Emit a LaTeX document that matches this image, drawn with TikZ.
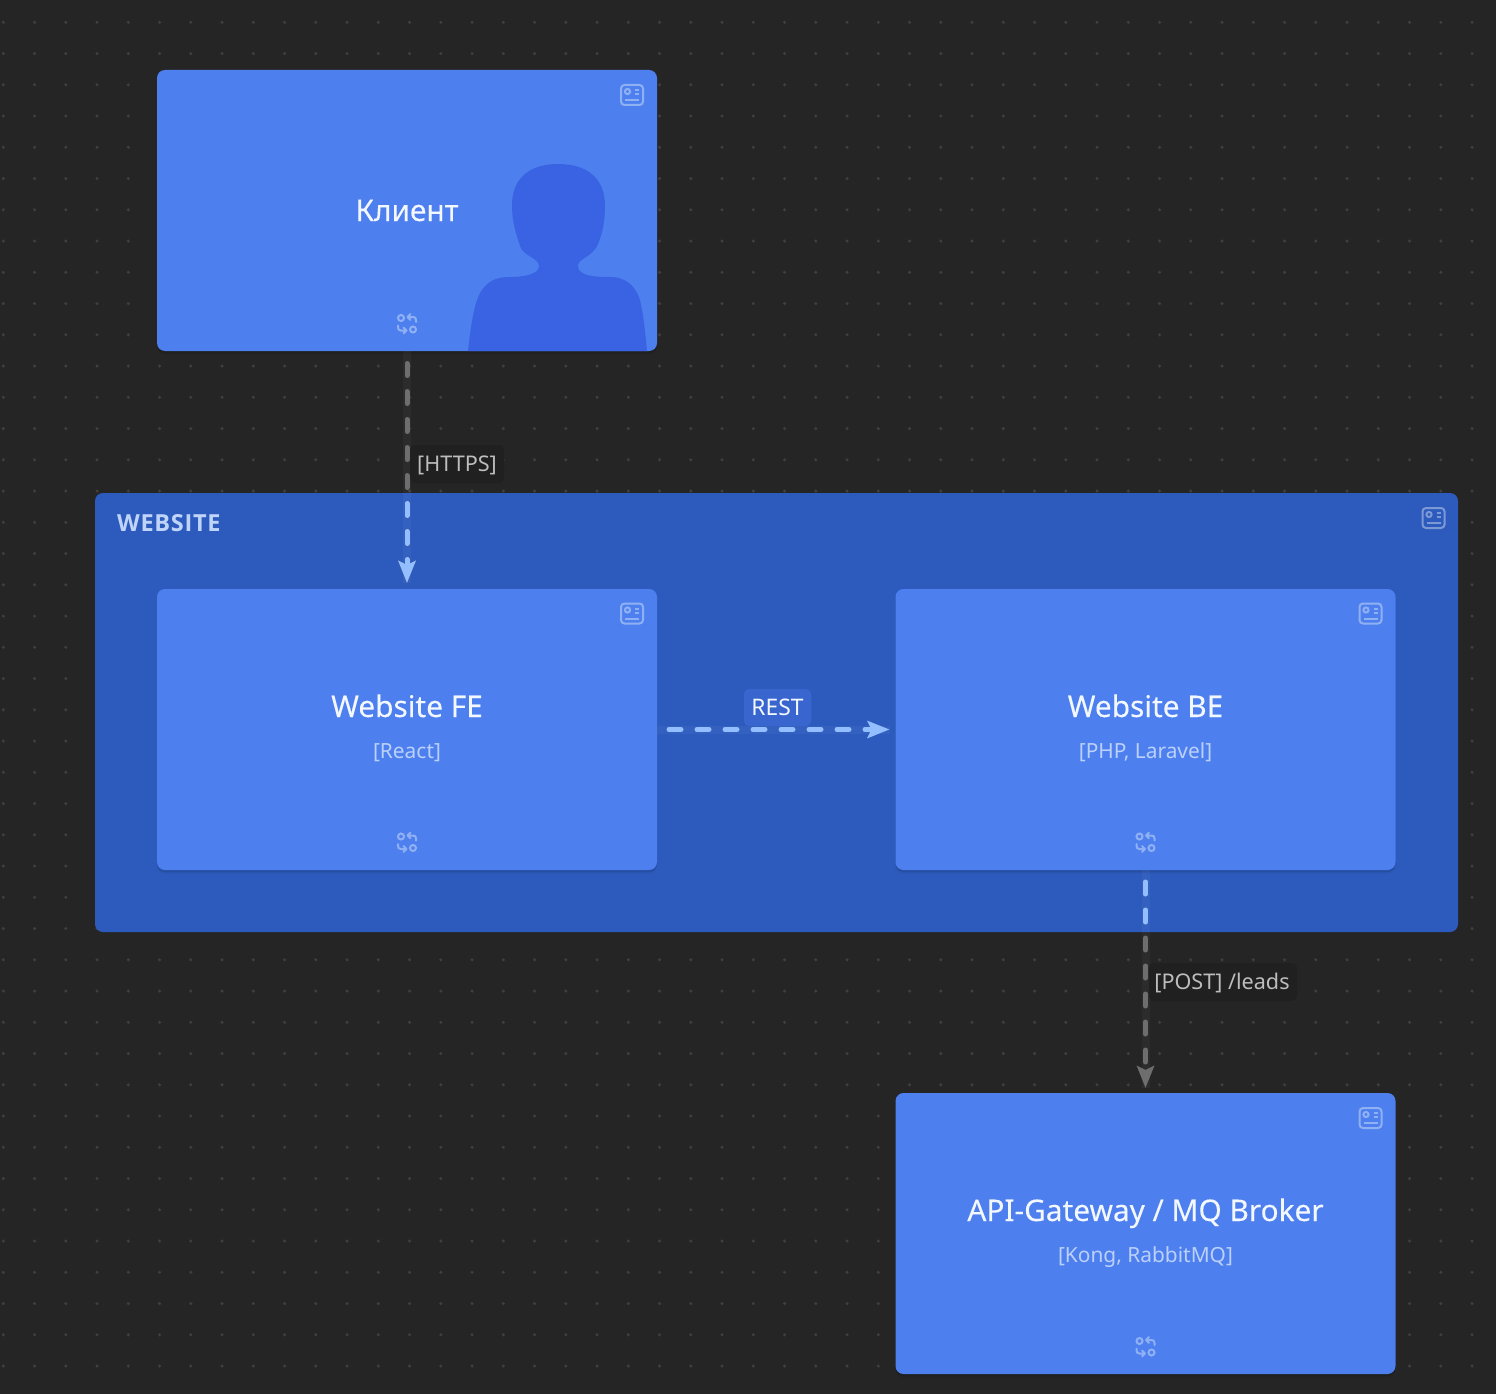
\documentclass[tikz,border=0pt]{standalone}
\usepackage{fontspec}
\setmainfont{Noto Sans}
\newfontfamily\titlefont[FakeBold=0.15]{Noto Sans}
\newfontfamily\contfont[LetterSpace=3,BoldFont={* Bold}]{Open Sans}
\usetikzlibrary{arrows.meta,shadows,calc}
\definecolor{canvas}{HTML}{252525}
\definecolor{griddot}{HTML}{3F3F3F}
\definecolor{boxblue}{HTML}{4D80EE}
\definecolor{contblue}{HTML}{2D5BBD}
\definecolor{personblue}{HTML}{3963E2}
\definecolor{edgegray}{HTML}{6E6E6E}
\definecolor{edgeblue}{HTML}{93BEFF}
\definecolor{titlecol}{HTML}{F3F7FF}
\definecolor{subcol}{HTML}{BBD0FA}
\definecolor{contcol}{HTML}{BFD4F8}
\definecolor{lblgray}{HTML}{202020}
\definecolor{lblblue}{HTML}{3866CE}
\definecolor{lbltext}{HTML}{BDBDBD}
\tikzset{
  x=1pt,y=-1pt,
  boxshape/.style={rectangle,rounded corners=8pt,inner sep=0pt,outer sep=0pt,fill=boxblue,
    minimum width=500pt,minimum height=281pt,
    general shadow={shadow yshift=-3.5pt,fill=black,opacity=.05},
    general shadow={shadow yshift=-2pt,fill=black,opacity=.09}},
  contshape/.style={rectangle,rounded corners=8pt,inner sep=0pt,outer sep=0pt,fill=contblue,
    minimum width=1363pt,minimum height=439pt},
  titletext/.style={text=titlecol,font=\titlefont\fontsize{29.8}{32}\selectfont,anchor=base,inner sep=0pt},
  subtext/.style={text=subcol,font=\fontsize{20.9}{25}\selectfont,anchor=base,inner sep=0pt},
  conttext/.style={text=contcol,font=\contfont\bfseries\fontsize{23.5}{26}\selectfont,anchor=base west,inner sep=0pt},
  edgelabel/.style={rectangle,rounded corners=5pt,inner sep=0pt,anchor=center},
  lbltxt/.style={font=\fontsize{21.6}{25}\selectfont,anchor=base,inner sep=0pt},
  band/.style={line width=8pt,white,opacity=.035},
  flow/.style={line width=5pt,line cap=round,dash pattern=on 12pt off 16pt,
    -{Stealth[length=22pt,width=17pt,inset=4pt]}},
  idcard/.pic={
    \draw[white,opacity=.38,line width=2pt,rounded corners=3.5pt] (-11,-10) rectangle (11,10);
    \draw[white,opacity=.38,line width=2pt] (-4.5,-3.5) circle (2.6);
    \draw[white,opacity=.38,line width=2pt] (3,-5) -- (7,-5) (3,-1) -- (7,-1) (-7,5) -- (7,5);
  },
  swapicon/.pic={
    \draw[white,opacity=.38,line width=2pt] (-6,-6) circle (3) (6,5.5) circle (3);
    \draw[white,opacity=.38,line width=2pt,line cap=round,line join=round]
      (9,-2) -- (9,-4) .. controls (9,-6) and (8,-7) .. (6,-7) -- (0.5,-7) (3.5,-10) -- (0.5,-7) -- (3.5,-4);
    \draw[white,opacity=.38,line width=2pt,line cap=round,line join=round]
      (-9,1.5) -- (-9,3.5) .. controls (-9,5.5) and (-8,6.5) .. (-6,6.5) -- (-0.5,6.5) (-3.5,3.5) -- (-0.5,6.5) -- (-3.5,9.5);
  },
}
\begin{document}
\begin{tikzpicture}
\useasboundingbox (0,0) rectangle (1496,1394);
\fill[canvas] (0,0) rectangle (1496,1394);
\fill[griddot] foreach \i in {0,...,47} { foreach \j in {0,...,44} { ({3.3+31.25*\i},{22.3+31.25*\j}) circle (1.7) } };

% container
\node[contshape] (website) at (776.5,712.5) {};
% boxes
\node[boxshape] (client) at (407,210.5) {};
\node[boxshape] (fe) at (407,729.5) {};
\node[boxshape] (be) at (1145.5,729.5) {};
\node[boxshape] (api) at (1145.5,1233.5) {};

% person silhouette
\fill[personblue] (468,351) .. controls (471,322) and (475,302) .. (480,293)
  .. controls (488,280) and (497,277) .. (510,277)
  .. controls (525,277) and (539,274) .. (539,266)
  .. controls (539,258) and (523,256) .. (520,246)
  .. controls (514,228) and (512,218) .. (512,205)
  .. controls (512,178) and (530,164) .. (558,164)
  .. controls (587,164) and (605,178) .. (605,206)
  .. controls (605,220) and (603,232) .. (598,244)
  .. controls (592,258) and (578,258) .. (578,266)
  .. controls (578,276) and (595,277) .. (610,277)
  .. controls (628,277) and (636,288) .. (640,300)
  .. controls (643,312) and (645,330) .. (647,351) -- cycle;

% icons
\pic at (632,95) {idcard};
\pic at (632,613.5) {idcard};
\pic at (1370.5,613.5) {idcard};
\pic at (1370.5,1118) {idcard};
\pic at (1433.5,518) {idcard};
\pic at (407,324) {swapicon};
\pic at (407,842.5) {swapicon};
\pic at (1145.5,842.5) {swapicon};
\pic at (1145.5,1347) {swapicon};

% texts
\node[titletext] (tclient) at (407,221) {Клиент};
\node[titletext] (tfe) at (407,717) {Website FE};
\node[subtext] (sfe) at (407,758) {[React]};
\node[titletext] (tbe) at (1145.5,717) {Website BE};
\node[subtext] (sbe) at (1145.5,758) {[PHP, Laravel]};
\node[titletext] (tapi) at (1145.5,1221) {API-Gateway / MQ Broker};
\node[subtext] (sapi) at (1145.5,1262) {[Kong, RabbitMQ]};
\node[conttext] (twebsite) at (117,531) {WEBSITE};

% connector bands
\draw[band,shorten >=6pt] (client.south) -- (fe.north);
\draw[band,shorten >=6pt] (fe.east) -- (be.west);
\draw[band,shorten >=5pt] (be.south) -- (api.north);

% connectors
\draw[flow,edgegray,shorten <=12.5pt,shorten >=6pt] (client.south) -- (fe.north);
\draw[flow,edgegray,shorten <=12pt,shorten >=5pt] (be.south) -- (api.north);
\begin{scope}
  \clip (95,493) rectangle (1458,932);
  \draw[flow,edgeblue,shorten <=12.5pt,shorten >=6pt] (client.south) -- (fe.north);
  \draw[flow,edgeblue,shorten <=12pt,shorten >=5pt] (be.south) -- (api.north);
\end{scope}

% labels
\node[edgelabel,fill=lblgray,minimum width=94pt,minimum height=38pt] (lhttpsbg) at (457,464) {};
\node[lbltxt,text=lbltext] (lhttps) at (457,471.5) {[HTTPS]};
\node[edgelabel,fill=lblgray,minimum width=148pt,minimum height=38pt] (lpostbg) at (1223,982) {};
\node[lbltxt,text=lbltext] (lpost) at (1222,989.5) {[POST] /leads};
\node[edgelabel,fill=lblblue,minimum width=67pt,minimum height=37pt] (lrestbg) at (777.5,707.5) {};
\node[lbltxt,text=titlecol,font=\fontsize{22.8}{25}\selectfont] (lrest) at (777.5,715) {REST};
\draw[flow,edgeblue,shorten <=12pt,shorten >=6pt] (fe.east) -- (be.west);
\end{tikzpicture}
\end{document}
